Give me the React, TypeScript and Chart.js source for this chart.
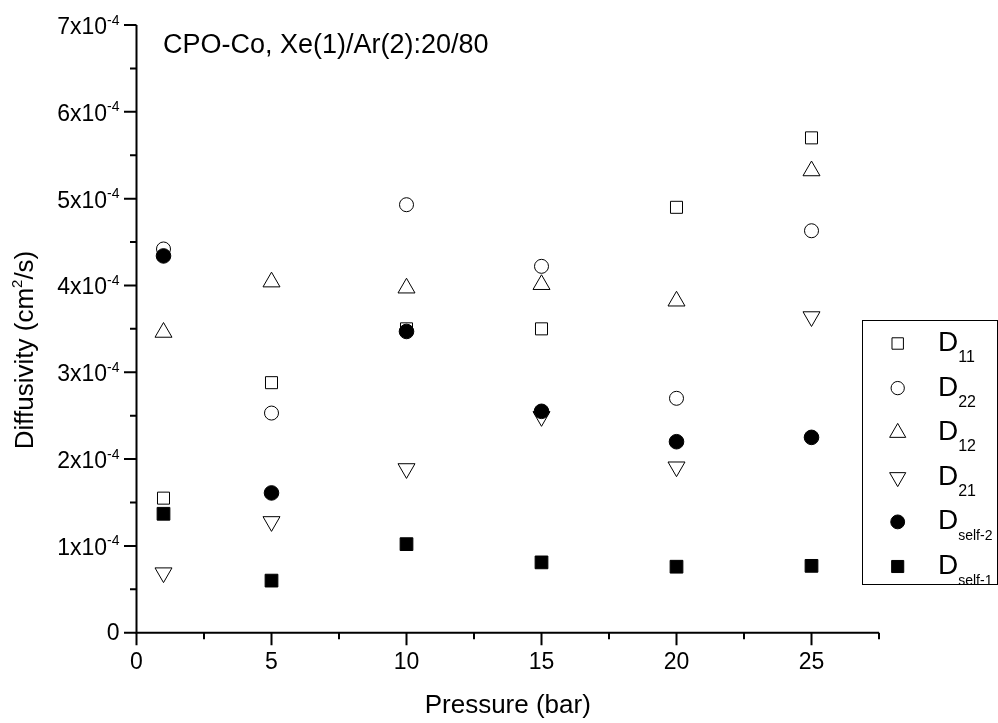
import React, { useEffect, useRef } from 'react';
import { Chart, registerables } from 'chart.js';
import { drawPoint } from 'chart.js/helpers';

Chart.register(...registerables);

// ---- Data (diffusivity in units of 1e-4 cm^2/s) ----
const pressures = [1, 5, 10, 15, 20, 25];
const D11 = [1.55, 2.88, 3.50, 3.50, 4.90, 5.70];
const D22 = [4.42, 2.53, 4.93, 4.22, 2.70, 4.63];
const D12 = [3.46, 4.04, 3.97, 4.01, 3.82, 5.32];
const D21 = [0.69, 1.28, 1.89, 2.49, 1.91, 3.64];
const Dself2 = [4.34, 1.61, 3.47, 2.55, 2.20, 2.25];
const Dself1 = [1.37, 0.60, 1.02, 0.81, 0.76, 0.77];
const UNIT = 1e-4;

const seriesNames = ['11', '22', '12', '21', 'self-2', 'self-1'];

// ---- Axes ----
const xMin = 0;
const xMax = 27.5;
const xMajorTicks = [0, 5, 10, 15, 20, 25];
const xMinorTicks = [2.5, 7.5, 12.5, 17.5, 22.5, 27.5];
const yMin = 0;
const yMax = 7;
const yMajorTicks = [0, 1, 2, 3, 4, 5, 6, 7];
const yMinorTicks = [0.5, 1.5, 2.5, 3.5, 4.5, 5.5, 6.5];
const yTickMain = ['0', '1x10', '2x10', '3x10', '4x10', '5x10', '6x10', '7x10'];
const yTickExp = ['', '-4', '-4', '-4', '-4', '-4', '-4', '-4'];

const titleText = 'CPO-Co, Xe(1)/Ar(2):20/80';
const xTitle = 'Pressure (bar)';
const yTitleParts = ['Diffusivity (cm', '2', '/s)'];

const FONT = "'Liberation Sans', Arial, Helvetica, sans-serif";

const styles = [
  { pointStyle: 'rect', radius: 8.5, rotation: 0, fill: '#ffffff' },
  { pointStyle: 'circle', radius: 7, rotation: 0, fill: '#ffffff' },
  { pointStyle: 'triangle', radius: 9.8, rotation: 0, fill: '#ffffff' },
  { pointStyle: 'triangle', radius: 9.8, rotation: 180, fill: '#ffffff' },
  { pointStyle: 'circle', radius: 7.3, rotation: 0, fill: '#000000' },
  { pointStyle: 'rect', radius: 9, rotation: 0, fill: '#000000' },
];
const drawOrder = [5, 4, 3, 2, 1, 0];

const allSeries = [D11, D22, D12, D21, Dself2, Dself1];

const decorPlugin = {
  id: 'decor',
  afterDraw(chart: any) {
    const { ctx, scales } = chart;
    const xs = scales.x;
    const ys = scales.y;
    const X = (v: number) => xs.getPixelForValue(v);
    const Y = (v: number) => ys.getPixelForValue(v * UNIT);
    const x0 = X(xMin);
    const x1 = X(xMax);
    const y0 = Y(yMin);
    const y1 = Y(yMax);
    ctx.save();
    ctx.strokeStyle = '#000';
    ctx.fillStyle = '#000';
    ctx.lineWidth = 2;
    ctx.lineCap = 'butt';
    // axis lines
    ctx.beginPath();
    ctx.moveTo(x0 - 1, y0);
    ctx.lineTo(x1, y0);
    ctx.moveTo(x0, y0 + 1);
    ctx.lineTo(x0, y1);
    ctx.stroke();
    // ticks
    ctx.beginPath();
    xMajorTicks.forEach((t) => {
      ctx.moveTo(X(t), y0);
      ctx.lineTo(X(t), y0 + 12.5);
    });
    xMinorTicks.forEach((t) => {
      ctx.moveTo(X(t), y0);
      ctx.lineTo(X(t), y0 + 6.5);
    });
    yMajorTicks.forEach((t) => {
      ctx.moveTo(x0, Y(t));
      ctx.lineTo(x0 - 12.5, Y(t));
    });
    yMinorTicks.forEach((t) => {
      ctx.moveTo(x0, Y(t));
      ctx.lineTo(x0 - 6.5, Y(t));
    });
    ctx.stroke();

    // x tick labels
    ctx.font = `23px ${FONT}`;
    ctx.textAlign = 'center';
    ctx.textBaseline = 'alphabetic';
    xMajorTicks.forEach((t) => {
      ctx.fillText(String(t), X(t), y0 + 36.5);
    });

    // y tick labels
    const rightEdge = x0 - 17;
    yMajorTicks.forEach((t, i) => {
      const py = Y(t);
      ctx.textAlign = 'left';
      ctx.font = `14px ${FONT}`;
      const expW = yTickExp[i] ? ctx.measureText(yTickExp[i]).width : 0;
      ctx.font = `23px ${FONT}`;
      const mainW = ctx.measureText(yTickMain[i]).width;
      const startX = rightEdge - expW - mainW;
      ctx.fillText(yTickMain[i], startX, py + (yTickExp[i] ? 9 : 7.5));
      if (yTickExp[i]) {
        ctx.font = `14px ${FONT}`;
        ctx.fillText(yTickExp[i], startX + mainW, py - 0.5);
      }
    });

    // x title
    ctx.font = `26px ${FONT}`;
    ctx.textAlign = 'center';
    ctx.fillText(xTitle, (x0 + x1) / 2, 713);

    // y title (rotated, with superscript)
    ctx.save();
    ctx.translate(33, 350);
    ctx.rotate(-Math.PI / 2);
    ctx.textAlign = 'left';
    ctx.font = `26px ${FONT}`;
    const w1 = ctx.measureText(yTitleParts[0]).width;
    const w3 = ctx.measureText(yTitleParts[2]).width;
    ctx.font = `15px ${FONT}`;
    const w2 = ctx.measureText(yTitleParts[1]).width;
    let sx = -(w1 + w2 + w3) / 2;
    ctx.font = `26px ${FONT}`;
    ctx.fillText(yTitleParts[0], sx, 0);
    sx += w1;
    ctx.font = `15px ${FONT}`;
    ctx.fillText(yTitleParts[1], sx, -11);
    sx += w2;
    ctx.font = `26px ${FONT}`;
    ctx.fillText(yTitleParts[2], sx, 0);
    ctx.restore();

    // chart title
    ctx.font = `27px ${FONT}`;
    ctx.textAlign = 'left';
    ctx.fillText(titleText, 163, 53);

    // legend
    const lx = 862;
    const ly = 320;
    const lw = 135;
    const lh = 264;
    ctx.fillStyle = '#fff';
    ctx.fillRect(lx, ly, lw, lh);
    ctx.strokeStyle = '#000';
    ctx.lineWidth = 1;
    ctx.strokeRect(lx + 0.5, ly + 0.5, lw, lh);
    seriesNames.forEach((name, i) => {
      const cy = 343.5 + i * 44.6;
      const st = styles[i];
      ctx.fillStyle = st.fill;
      ctx.strokeStyle = '#000';
      ctx.lineWidth = 1;
      drawPoint(ctx, { pointStyle: st.pointStyle, radius: st.radius * 0.95, rotation: st.rotation, borderWidth: 1 } as any, 897.7, cy);
      ctx.fillStyle = '#000';
      ctx.textAlign = 'left';
      ctx.font = `28px ${FONT}`;
      ctx.fillText('D', 938, cy + 7.5);
      const dw = ctx.measureText('D').width;
      ctx.font = `${name.length > 2 ? 14 : 16}px ${FONT}`;
      ctx.fillText(name, 938 + dw, cy + 18.5);
    });
    ctx.restore();
  },
};

export default function App() {
  const ref = useRef<HTMLCanvasElement | null>(null);
  useEffect(() => {
    if (!ref.current) return;
    const datasets = allSeries.map((vals, i) => ({
      label: 'D' + seriesNames[i],
      data: pressures.map((p, j) => ({ x: p, y: vals[j] * UNIT })),
      pointStyle: styles[i].pointStyle,
      pointRadius: styles[i].radius,
      pointRotation: styles[i].rotation,
      pointBackgroundColor: styles[i].fill,
      pointBorderColor: '#000',
      pointBorderWidth: 1,
      showLine: false,
      order: drawOrder[i],
    }));
    const chart = new Chart(ref.current, {
      type: 'scatter',
      data: { datasets },
      options: {
        animation: false,
        responsive: false,
        devicePixelRatio: 1,
        events: [],
        layout: { padding: { left: 0, top: 25, right: 119, bottom: 0 } },
        plugins: { legend: { display: false }, tooltip: { enabled: false }, title: { display: false } },
        scales: {
          x: {
            type: 'linear',
            min: xMin,
            max: xMax,
            grid: { display: false },
            border: { display: false },
            ticks: { display: false },
            afterFit: (s: any) => {
              s.height = 90.3;
            },
          },
          y: {
            type: 'linear',
            min: yMin * UNIT,
            max: yMax * UNIT,
            grid: { display: false },
            border: { display: false },
            ticks: { display: false },
            afterFit: (s: any) => {
              s.width = 136.5;
            },
          },
        },
      },
      plugins: [decorPlugin],
    });
    return () => chart.destroy();
  }, []);
  return (
    <div style={{ position: 'absolute', left: 0, top: 0, width: 998, height: 723, background: '#fff' }}>
      <canvas ref={ref} width={998} height={723} style={{ display: 'block' }} />
    </div>
  );
}
